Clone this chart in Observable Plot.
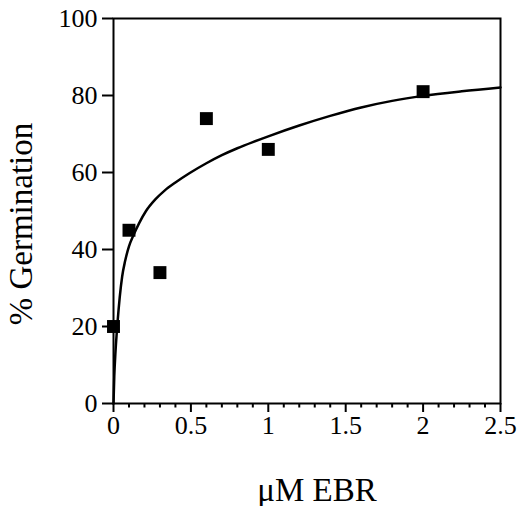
<!DOCTYPE html>
<html>
<head>
<meta charset="utf-8">
<script src="https://cdn.jsdelivr.net/npm/d3@7"></script>
<script src="https://cdn.jsdelivr.net/npm/@observablehq/plot@0.6"></script>
<style>
  html, body { margin: 0; padding: 0; background: #fff; }
</style>
</head>
<body>
<div id="chart"></div>
<script>
// Measured points
const doseUM = [0, 0.1, 0.3, 0.6, 1, 2];
const germinationPct = [20, 45, 34, 74, 66, 81];

// Fitted curve
const fitDose = [0, 0.005, 0.013, 0.026, 0.04, 0.056, 0.075, 0.1, 0.13, 0.165, 0.21, 0.27, 0.33, 0.4, 0.49, 0.6, 0.7, 0.8, 0.9, 1.0, 1.2, 1.4, 1.6, 1.8, 2.0, 2.25, 2.5];
const fitPct  = [0, 7, 13.5, 21, 27.5, 33, 37, 40.8, 43.8, 46.8, 50, 53, 55.3, 57.4, 59.8, 62.4, 64.5, 66.3, 67.9, 69.4, 72.2, 74.7, 76.9, 78.6, 79.9, 81.1, 82.1];

// Axis ticks
const xMajorTicks = [0, 0.5, 1, 1.5, 2, 2.5];
const xMinorTicks = [0.1, 0.2, 0.3, 0.4, 0.6, 0.7, 0.8, 0.9, 1.1, 1.2, 1.3, 1.4, 1.6, 1.7, 1.8, 1.9, 2.1, 2.2, 2.3, 2.4];
const yTicks = [0, 20, 40, 60, 80, 100];

const xLabel = "μM EBR";
const yLabel = "% Germination";

const points = doseUM.map((d, i) => ({dose: d, pct: germinationPct[i]}));
const fit = fitDose.map((d, i) => ({dose: d, pct: fitPct[i]}));

const font = "'Liberation Serif', 'Times New Roman', serif";

const chart = Plot.plot({
  width: 518,
  height: 506,
  marginLeft: 113,
  marginRight: 18,
  marginTop: 18,
  marginBottom: 103,
  style: {fontFamily: font, background: "#fff", color: "#000"},
  x: {domain: [0, 2.5], label: null},
  y: {domain: [0, 100], label: null},
  marks: [
    Plot.axisY({ticks: yTicks, tickSize: 11, tickPadding: 5, fontSize: 26, strokeWidth: 2, label: null, tickFormat: d => String(d)}),
    Plot.axisX({ticks: xMajorTicks, tickSize: 9, tickPadding: 3, fontSize: 26, strokeWidth: 2, label: null, tickFormat: d => String(d)}),
    Plot.axisX({ticks: xMinorTicks, tickSize: 4.5, strokeWidth: 2, label: null, tickFormat: () => ""}),
    Plot.line(fit, {x: "dose", y: "pct", stroke: "#000", strokeWidth: 2.5, curve: "monotone-x"}),
    Plot.dot(points, {x: "dose", y: "pct", symbol: "square", r: 7.3, fill: "#000", stroke: null}),
    Plot.frame({stroke: "#000", strokeWidth: 2}),
    Plot.text([xLabel], {frameAnchor: "bottom", text: d => d, fontSize: 33, lineAnchor: "bottom", dy: 97, dx: 10, fill: "#000"}),
    Plot.text([yLabel], {frameAnchor: "left", textAnchor: "middle", text: d => d, fontSize: 33, rotate: -90, lineAnchor: "bottom", dx: -82, dy: 13, fill: "#000"})
  ]
});

document.getElementById("chart").appendChild(chart);
</script>
</body>
</html>
